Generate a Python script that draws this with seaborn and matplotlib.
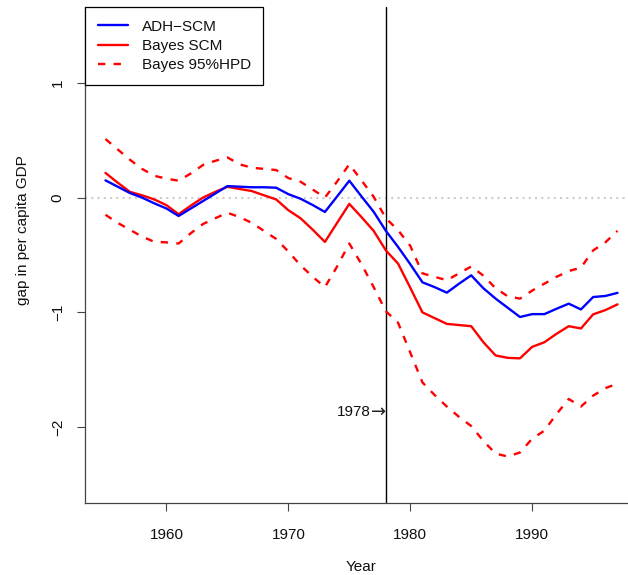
#synthetic control gap plot: ADH-SCM vs Bayes SCM

import pandas as pd
import matplotlib
matplotlib.use('Agg')
import matplotlib.pyplot as plt
import seaborn as sns

# values
years = list(range(1955, 1998))
adh_scm = [0.15, 0.095, 0.04, 0.0, -0.05, -0.095, -0.16, -0.095, -0.03, 0.035,
           0.10, 0.095, 0.09, 0.09, 0.086, 0.03, -0.01, -0.065, -0.125, 0.01,
           0.147, 0.01, -0.124, -0.29, -0.43, -0.58, -0.738, -0.78, -0.828, -0.75,
           -0.677, -0.79, -0.88, -0.96, -1.04, -1.015, -1.015, -0.968, -0.924, -0.974,
           -0.866, -0.857, -0.83]
bayes_scm = [0.215, 0.13, 0.05, 0.02, -0.016, -0.066, -0.145, -0.07, 0.0, 0.05,
             0.094, 0.075, 0.057, 0.02, -0.016, -0.11, -0.18, -0.28, -0.386, -0.22,
             -0.055, -0.17, -0.29, -0.46, -0.575, -0.785, -1.0, -1.05, -1.10, -1.11,
             -1.12, -1.26, -1.375, -1.396, -1.40, -1.30, -1.26, -1.186, -1.12, -1.14,
             -1.017, -0.98, -0.93]
hpd_upper = [0.51, 0.42, 0.33, 0.25, 0.19, 0.165, 0.147, 0.21, 0.284, 0.32,
             0.35, 0.29, 0.26, 0.25, 0.24, 0.17, 0.138, 0.07, 0.0, 0.14,
             0.29, 0.15, 0.007, -0.18, -0.284, -0.42, -0.66, -0.69, -0.72, -0.66,
             -0.60, -0.68, -0.79, -0.86, -0.88, -0.81, -0.75, -0.69, -0.64, -0.61,
             -0.46, -0.39, -0.29]
hpd_lower = [-0.15, -0.22, -0.28, -0.34, -0.385, -0.39, -0.40, -0.31, -0.23, -0.18,
             -0.132, -0.17, -0.22, -0.29, -0.36, -0.47, -0.59, -0.69, -0.78, -0.60,
             -0.40, -0.58, -0.78, -0.99, -1.09, -1.35, -1.61, -1.72, -1.82, -1.91,
             -1.99, -2.12, -2.23, -2.255, -2.22, -2.10, -2.03, -1.885, -1.754, -1.82,
             -1.725, -1.66, -1.62]
treat_year = 1978
y_ticks = [-2, -1, 0, 1]

df = pd.DataFrame({'year': years, 'adh': adh_scm, 'bayes': bayes_scm,
                   'upper': hpd_upper, 'lower': hpd_lower})

sns.set_theme(style='white')
plt.rcParams['font.family'] = ['Liberation Sans', 'DejaVu Sans']

fig = plt.figure(figsize=(6.28, 5.75), dpi=100)
# axes run off the right edge like the cropped original
ax = fig.add_axes([85/628, 72/575, 553/628, 496/575])

ax.axhline(0, color='#cccccc', lw=1.5, ls=(0, (1, 2)), zorder=1)
ax.axvline(treat_year, color='black', lw=1, zorder=2)

lw = 1.7
sns.lineplot(data=df, x='year', y='adh', ax=ax, color='#0000ff', lw=lw,
             label='ADH\u2212SCM', zorder=4)
sns.lineplot(data=df, x='year', y='bayes', ax=ax, color='#ff0000', lw=lw,
             label='Bayes SCM', zorder=3)
sns.lineplot(data=df, x='year', y='upper', ax=ax, color='#ff0000', lw=lw,
             label='Bayes 95%HPD', zorder=3)
sns.lineplot(data=df, x='year', y='lower', ax=ax, color='#ff0000', lw=lw,
             label='_nolegend_', zorder=3)
# lines: 0 zero, 1 vline, 2 adh, 3 bayes, 4 upper, 5 lower
for ln in ax.lines[4:6]:
    ln.set_dashes((3.1, 3.5))

# "1978" then the arrow, arrow tip touching the vertical line
ax.annotate('\u2192', xy=(treat_year, -1.865), ha='right', va='center',
            fontsize=13, color='#222222', family='DejaVu Sans')
ax.annotate('1978', xy=(treat_year, -1.865), xytext=(-11, 0),
            textcoords='offset points', ha='right', va='center',
            fontsize=11, color='#111111')

ax.set_xlim(1953.32, 1998.68)
ax.set_ylim(-2.66, 1.66)
ax.set_xticks([1960, 1970, 1980, 1990])
ax.set_yticks(y_ticks)
ax.set_yticklabels(['\u22122', '\u22121', '0', '1'])
for lab in ax.get_yticklabels():
    lab.set_rotation(90)
    lab.set_va('center')

ax.tick_params(axis='both', direction='out', length=5.5, width=0.8,
               color='#444444', labelsize=11, labelcolor='#111111')
ax.tick_params(axis='x', pad=12.5)
ax.tick_params(axis='y', pad=9)
ax.xaxis.set_ticks_position('bottom')
ax.yaxis.set_ticks_position('left')

ax.spines['top'].set_visible(False)
ax.spines['right'].set_visible(False)
for s in ['left', 'bottom']:
    ax.spines[s].set_color('#444444')
    ax.spines[s].set_linewidth(0.9)

ax.set_xlabel('Year', fontsize=11, color='#111111', labelpad=13)
ax.set_ylabel('gap in per capita GDP', fontsize=11, color='#111111')
ax.yaxis.set_label_coords(-0.099, 0.55)

leg = ax.legend(loc='upper left', bbox_to_anchor=(0, 1), borderaxespad=0,
                fontsize=11, frameon=True, fancybox=False, framealpha=1,
                edgecolor='black', handlelength=2.0, handletextpad=0.88,
                labelspacing=0.35, borderpad=0.82)
leg.get_frame().set_linewidth(0.9)
for t in leg.get_texts():
    t.set_color('#111111')

plt.savefig('out.png', dpi=100)
